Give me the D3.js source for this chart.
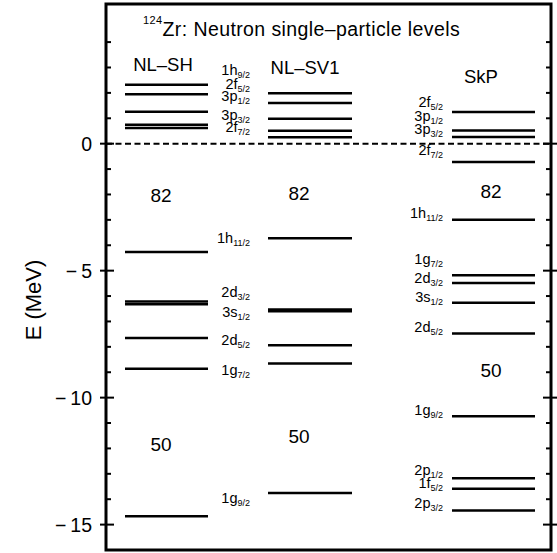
<!DOCTYPE html>
<html>
<head>
<meta charset="utf-8">
<script src="https://cdn.jsdelivr.net/npm/d3@7"></script>
<style>
  body { margin: 0; background: #fff; }
  svg text { font-family: "Liberation Sans", Arial, Helvetica, sans-serif; fill: #000; }
</style>
</head>
<body>
<svg id="chart" width="557" height="553"></svg>
<script>
// level energies (MeV)
const nlshLevels = [2.32, 1.95, 1.26, 0.75, 0.62, -4.27, -6.21, -6.32, -7.65, -8.86, -14.67];
const nlsv1Levels = [1.99, 1.60, 0.98, 0.51, 0.25, -3.72, -6.53, -6.60, -7.94, -8.66, -13.76];
const skpLevels = [1.25, 0.52, 0.26, -0.72, -3.00, -5.18, -5.49, -6.26, -7.47, -10.73, -13.17, -13.59, -14.44];

// orbital labels: [name, j, energy where the label sits]
const relLabels = [
  ['1h', '9/2', 2.72], ['2f', '5/2', 2.17], ['3p', '1/2', 1.69], ['3p', '3/2', 0.95],
  ['2f', '7/2', 0.47], ['1h', '11/2', -3.90], ['2d', '3/2', -6.02], ['3s', '1/2', -6.81],
  ['2d', '5/2', -7.91], ['1g', '7/2', -9.10], ['1g', '9/2', -14.14]
];
const skpLabels = [
  ['2f', '5/2', 1.46], ['3p', '1/2', 0.91], ['3p', '3/2', 0.39], ['2f', '7/2', -0.43],
  ['1h', '11/2', -2.91], ['1g', '7/2', -4.73], ['2d', '3/2', -5.47], ['3s', '1/2', -6.22],
  ['2d', '5/2', -7.40], ['1g', '9/2', -10.67], ['2p', '1/2', -13.03], ['1f', '5/2', -13.55],
  ['2p', '3/2', -14.33]
];

// shell gaps: [magic number, column, energy of label]
const gapLabels = [
  ['82', 0, -2.28], ['82', 1, -2.20], ['82', 2, -2.13],
  ['50', 0, -12.09], ['50', 1, -11.77], ['50', 2, -9.17]
];

const modelNames = ['NL\u2013SH', 'NL\u2013SV1', 'SkP'];
const yTicks = [0, -5, -10, -15];

const svg = d3.select('#chart');
const frame = { left: 106, right: 551, top: 4, bottom: 550 };

const y = d3.scaleLinear().domain([5.5, -16]).range([frame.top, frame.bottom]);

// column extents in pixels
const cols = [
  { x0: 125, x1: 208, head: 163, headY: 71, gapX: 161 },
  { x0: 268, x1: 352, head: 305, headY: 74, gapX: 299 },
  { x0: 452, x1: 535, head: 481, headY: 83, gapX: 491 }
];

// zero line
svg.append('line')
  .attr('x1', frame.left).attr('x2', frame.right)
  .attr('y1', y(0)).attr('y2', y(0))
  .attr('stroke', '#000').attr('stroke-width', 2)
  .attr('stroke-dasharray', '6,3.5');

// levels
[nlshLevels, nlsv1Levels, skpLevels].forEach((levels, i) => {
  svg.append('g').selectAll('line')
    .data(levels)
    .join('line')
    .attr('x1', cols[i].x0).attr('x2', cols[i].x1)
    .attr('y1', d => y(d)).attr('y2', d => y(d))
    .attr('stroke', '#000').attr('stroke-width', 2.5);
});

function drawLabels(list, xEnd) {
  const t = svg.append('g').selectAll('text')
    .data(list)
    .join('text')
    .attr('x', xEnd)
    .attr('y', d => y(d[2]))
    .attr('text-anchor', 'end')
    .attr('font-size', 14.5);
  t.append('tspan').text(d => d[0]);
  t.append('tspan')
    .attr('font-size', 9)
    .attr('dy', 3.5)
    .text(d => d[1]);
}
drawLabels(relLabels, 250);
drawLabels(skpLabels, 443);

// model names
svg.append('g').selectAll('text')
  .data(modelNames)
  .join('text')
  .attr('x', (d, i) => cols[i].head)
  .attr('y', (d, i) => cols[i].headY)
  .attr('text-anchor', 'middle')
  .attr('font-size', 18.5)
  .text(d => d);

// magic numbers
svg.append('g').selectAll('text')
  .data(gapLabels)
  .join('text')
  .attr('x', d => cols[d[1]].gapX)
  .attr('y', d => y(d[2]))
  .attr('text-anchor', 'middle')
  .attr('font-size', 19)
  .text(d => d[0]);

// title
const title = svg.append('text').attr('x', 143).attr('y', 36)
  .attr('font-size', 19.5).attr('letter-spacing', 0.4);
title.append('tspan').attr('font-size', 11).attr('dy', -12).text('124');
title.append('tspan').attr('dy', 12).text('Zr: Neutron single\u2013particle levels');

// frame
svg.append('rect')
  .attr('x', frame.left).attr('y', frame.top)
  .attr('width', frame.right - frame.left)
  .attr('height', frame.bottom - frame.top)
  .attr('fill', 'none').attr('stroke', '#000').attr('stroke-width', 3);

// ticks: minor every 1 MeV (inside), major every 5 MeV (crossing the frame)
const minor = d3.range(-16, 6).filter(v => v % 5 !== 0);
const ticks = svg.append('g').attr('stroke', '#000').attr('stroke-width', 2);
ticks.selectAll('.minL').data(minor).join('line')
  .attr('x1', frame.left).attr('x2', frame.left + 5)
  .attr('y1', d => y(d)).attr('y2', d => y(d));
ticks.selectAll('.minR').data(minor).join('line')
  .attr('x1', frame.right - 5).attr('x2', frame.right)
  .attr('y1', d => y(d)).attr('y2', d => y(d));
ticks.selectAll('.majL').data(yTicks).join('line')
  .attr('x1', frame.left - 6).attr('x2', frame.left + 8)
  .attr('y1', d => y(d)).attr('y2', d => y(d));
ticks.selectAll('.majR').data(yTicks).join('line')
  .attr('x1', frame.right - 8).attr('x2', frame.right + 6)
  .attr('y1', d => y(d)).attr('y2', d => y(d));

const tickFmt = d => (d < 0 ? '\u2212\u2009' + (-d) : String(d));
svg.append('g').selectAll('text')
  .data(yTicks)
  .join('text')
  .attr('x', 92)
  .attr('y', d => y(d) + 7)
  .attr('text-anchor', 'end')
  .attr('font-size', 19.5)
  .text(tickFmt);

svg.append('text')
  .attr('transform', 'translate(41,300) rotate(-90)')
  .attr('text-anchor', 'middle')
  .attr('font-size', 22)
  .text('E (MeV)');
</script>
</body>
</html>
